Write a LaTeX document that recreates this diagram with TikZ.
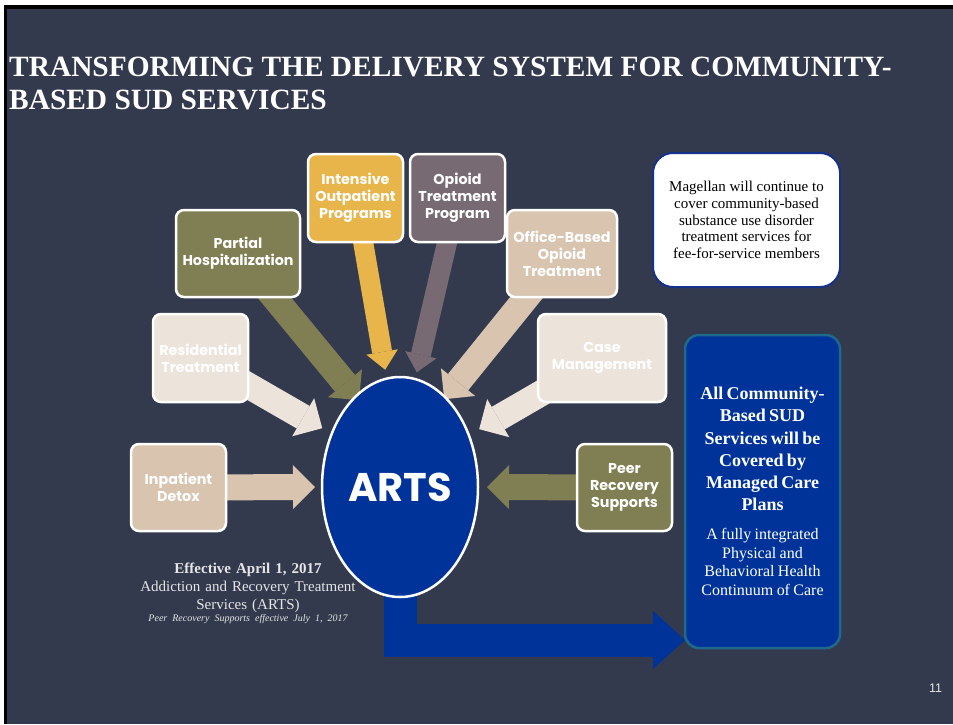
\documentclass[tikz,border=0pt]{standalone}
\usepackage{fontspec}
\setmainfont{Liberation Serif}
\newfontfamily\gothic{Poppins}
\newfontfamily\arialfont{Liberation Sans}
\usetikzlibrary{arrows.meta, shapes.geometric, backgrounds}

\definecolor{slide}{RGB}{51,58,78}
\definecolor{olivebox}{RGB}{128,127,84}
\definecolor{yellowbox}{RGB}{232,181,74}
\definecolor{mauvebox}{RGB}{120,106,114}
\definecolor{tanbox}{RGB}{216,196,175}
\definecolor{lightbox}{RGB}{236,227,219}
\definecolor{artsblue}{RGB}{0,51,153}
\definecolor{tealedge}{RGB}{31,105,140}
\definecolor{magedge}{RGB}{20,50,140}
\definecolor{notegray}{RGB}{230,230,230}

\tikzset{box/.style = {draw=white, line width=2.5pt, rounded corners=8pt, fill=#1,
    text=white, align=center, inner sep=0pt, outer sep=0pt,
    font=\gothic\bfseries\fontsize{14.3}{17}\selectfont}}
\tikzset{feed/.style = {draw=#1, line width=26pt,
    -{Triangle[length=22pt, width=44pt, line width=0pt]}}}
\tikzset{thin feed/.style = {draw=#1, line width=20pt,
    -{Triangle[length=18pt, width=32pt, line width=0pt]}}}
\tikzset{trunk/.style = {draw=artsblue, line width=33pt,
    -{Triangle[length=32pt, width=58pt, line width=0pt]}}}

\begin{document}
\begin{tikzpicture}[x=1pt, y=-1pt]
    \useasboundingbox (0,0) rectangle (953,724);
    \begin{pgfonlayer}{background}
    \fill[white] (0,0) rectangle (953,724);
    \fill[black] (4,5) rectangle (953,724);
    \fill[slide] (7,9) rectangle (953,724);
    \end{pgfonlayer}

    % title
    \node (title) at (9,57) [anchor=north west, inner sep=0pt, align=left, text=white,
        font=\bfseries\fontsize{29.4}{33}\selectfont]
        {TRANSFORMING THE DELIVERY SYSTEM FOR COMMUNITY-\\BASED SUD SERVICES};

    % services
    \node (partial) at (238,253.5) [box=olivebox, minimum width=124pt, minimum height=87pt] {Partial\\Hospitalization};
    \node (intensive) at (355.5,198) [box=yellowbox, minimum width=95pt, minimum height=88pt] {Intensive\\Outpatient\\Programs};
    \node (opioid) at (457.5,198) [box=mauvebox, minimum width=95pt, minimum height=88pt] {Opioid\\Treatment\\Program};
    \node (office) at (562,253.5) [box=tanbox, minimum width=110pt, minimum height=87pt] {Office-Based\\Opioid\\Treatment};
    \node (resi) at (200.5,358) [box=lightbox, minimum width=95pt, minimum height=88pt] {Residential\\Treatment};
    \node (casemgmt) at (602,358) [box=lightbox, minimum width=128pt, minimum height=88pt] {Case\\Management};
    \node (inpatient) at (178.5,487.5) [box=tanbox, minimum width=95pt, minimum height=87pt] {Inpatient\\Detox};
    \node (peer) at (624.5,487.5) [box=olivebox, minimum width=95pt, minimum height=87pt] {Peer\\Recovery\\Supports};

    \node (arts) at (400,487) [ellipse, draw=white, line width=2.5pt, fill=artsblue,
        minimum width=156pt, minimum height=220pt, inner sep=0pt, outer sep=0pt,
        text=white, font=\gothic\bfseries\fontsize{40}{46}\selectfont] {ARTS};

    % notes on the right
    \node (magellan) at (746.5,220) [draw=magedge, line width=2pt, fill=white, rounded corners=20pt,
        minimum width=187pt, minimum height=134pt, inner sep=0pt, outer sep=0pt,
        align=center, font=\fontsize{15}{16.7}\selectfont]
        {Magellan will continue to\\cover community-based\\substance use disorder\\treatment services for\\fee-for-service members};
    \node (bluebox) at (762.5,491.5) [draw=tealedge, line width=2.5pt, fill=artsblue, rounded corners=14pt,
        minimum width=155pt, minimum height=313pt, inner sep=0pt, outer sep=0pt,
        text=white, text width=150pt, align=center]
        {{\bfseries\fontsize{18}{22.2}\selectfont All Community-\\Based SUD\\Services will be\\Covered by\\Managed Care\\Plans\par}
         \vspace{10pt}
         {\fontsize{16}{18.7}\selectfont A fully integrated\\Physical and\\Behavioral Health\\Continuum of Care\par}};

    % effective date
    \node (effective) at (248,562.5) [anchor=north, inner sep=0pt, text=notegray, text width=240pt,
        align=center, font=\fontsize{15}{18}\selectfont]
        {{\bfseries Effective April 1, 2017}\\Addiction and Recovery Treatment\\Services (ARTS)\par
         {\fontsize{10}{12.5}\itshape\selectfont Peer Recovery Supports effective July 1, 2017\par}};

    \node (pagenum) at (935.5,688) [text=notegray, font=\arialfont\fontsize{12.5}{15}\selectfont] {11};

    % arrows into ARTS
    \begin{pgfonlayer}{background}
    \draw[feed=tanbox, shorten >=7pt] (inpatient.center) -- (arts.180);
    \draw[feed=olivebox, shorten >=9pt] (peer.center) -- (arts.0);
    \draw[feed=lightbox, shorten >=11pt] (resi.center) -- (arts.142);
    \draw[feed=lightbox, shorten >=12pt] (casemgmt.center) -- (arts.37);
    \draw[feed=olivebox, shorten >=-5pt] (partial.center) -- (arts.116);
    \draw[feed=tanbox, shorten >=-2pt] (office.center) -- (arts.63);
    \draw[thin feed=yellowbox, shorten >=9pt] (intensive.center) -- (arts.97);
    \draw[thin feed=mauvebox, shorten >=7pt] (opioid.center) -- (arts.82);
    \draw[trunk] (arts.center) |- ([yshift=8pt]bluebox.south west);
    \end{pgfonlayer}
\end{tikzpicture}
\end{document}
